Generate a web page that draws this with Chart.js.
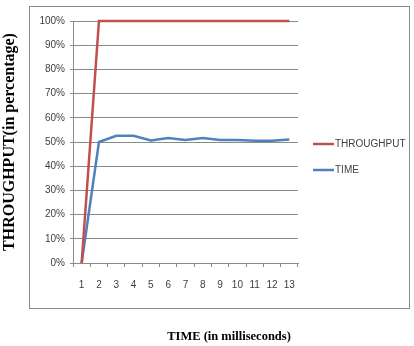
<!DOCTYPE html>
<html>
<head>
<meta charset="utf-8">
<script src="https://cdn.jsdelivr.net/npm/chart.js@4.4.1/dist/chart.umd.min.js"></script>
<style>
html,body{margin:0;padding:0;background:#fff;}
#wrap{width:414px;height:346px;position:relative;}
</style>
</head>
<body>
<div id="wrap"><canvas id="c" width="414" height="346"></canvas></div>
<script>
const categories = ['1','2','3','4','5','6','7','8','9','10','11','12','13'];
const throughput = [0, 100, 100, 100, 100, 100, 100, 100, 100, 100, 100, 100, 100];
const timeSeries = [0, 50, 52.6, 52.6, 50.6, 51.6, 50.8, 51.6, 50.8, 50.8, 50.5, 50.5, 51];
const seriesNames = ['THROUGHPUT', 'TIME'];
const yTitle = 'THROUGHPUT(in percentage)';
const xTitle = 'TIME (in milliseconds)';

const colors = ['#C0504D', '#4F81BD'];

const decor = {
  id: 'decor',
  beforeDraw(chart) {
    const ctx = chart.ctx;
    ctx.save();
    ctx.fillStyle = '#fff';
    ctx.fillRect(0, 0, chart.width, chart.height);
    ctx.strokeStyle = '#8a8a8a';
    ctx.lineWidth = 1;
    ctx.strokeRect(29.5, 6.5, 380, 302);
    ctx.restore();
  },
  afterDraw(chart) {
    const ctx = chart.ctx;
    ctx.save();
    const ys = [144, 170];
    chart.data.datasets.forEach((ds, i) => {
      ctx.strokeStyle = ds.borderColor;
      ctx.lineWidth = 2.5;
      ctx.beginPath();
      ctx.moveTo(313, ys[i]);
      ctx.lineTo(334, ys[i]);
      ctx.stroke();
      ctx.fillStyle = '#404040';
      ctx.font = '10px "Liberation Sans", Arial, sans-serif';
      ctx.textBaseline = 'middle';
      ctx.textAlign = 'left';
      ctx.fillText(ds.label, 335, ys[i] + 0.5);
    });
    ctx.fillStyle = '#000';
    ctx.font = 'bold 12.5px "Liberation Serif", "Times New Roman", serif';
    ctx.textAlign = 'center';
    ctx.textBaseline = 'middle';
    ctx.fillText(xTitle, 229, 337);
    ctx.restore();
  }
};

new Chart(document.getElementById('c'), {
  type: 'line',
  data: {
    labels: categories,
    datasets: [
      { label: seriesNames[0], data: throughput, borderColor: colors[0], backgroundColor: colors[0], borderWidth: 2.5, pointRadius: 0, tension: 0, clip: false },
      { label: seriesNames[1], data: timeSeries, borderColor: colors[1], backgroundColor: colors[1], borderWidth: 2.5, pointRadius: 0, tension: 0, clip: false }
    ]
  },
  options: {
    responsive: false,
    animation: false,
    devicePixelRatio: 1,
    layout: { padding: { left: 0, top: 21, right: 116, bottom: 53 } },
    plugins: { legend: { display: false }, tooltip: { enabled: false }, title: { display: false } },
    scales: {
      x: {
        offset: true,
        grid: { offset: true, drawOnChartArea: false, drawTicks: true, tickLength: 4, color: '#8a8a8a' },
        border: { color: '#8a8a8a' },
        ticks: { color: '#404040', font: { family: '"Liberation Sans", Arial, sans-serif', size: 10 }, padding: 12, maxRotation: 0, autoSkip: false },
        afterFit(s) { s.height = 30; }
      },
      y: {
        min: 0, max: 100,
        ticks: { stepSize: 10, color: '#404040', font: { family: '"Liberation Sans", Arial, sans-serif', size: 10 }, padding: 5, callback: v => v + '%' },
        grid: { color: '#8a8a8a', tickLength: 3 },
        border: { color: '#8a8a8a' },
        title: { display: true, text: yTitle, color: '#000', font: { family: '"Liberation Serif", "Times New Roman", serif', size: 16, weight: 'bold' }, padding: { top: 0, bottom: 0 } },
        afterFit(s) { s.width = 73; }
      }
    }
  },
  plugins: [decor]
});
</script>
</body>
</html>
